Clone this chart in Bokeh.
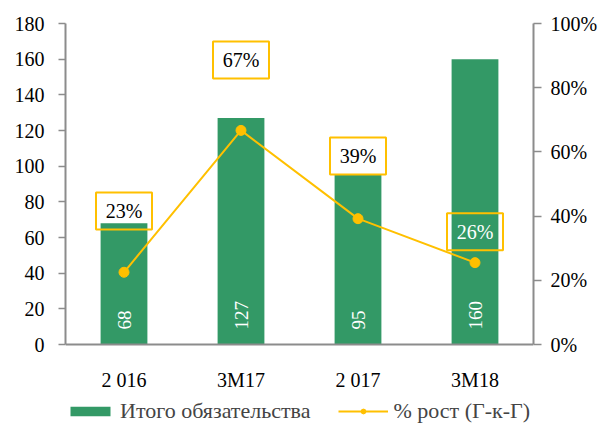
import math
from bokeh.plotting import figure
from bokeh.models import (Range1d, LinearAxis, NumeralTickFormatter, FactorRange,
                          Legend, LegendItem, FixedTicker)
from bokeh.core.properties import value
from bokeh.embed import file_html
from bokeh.resources import INLINE

# ---- data ----
categories = ["2 016", "3M17", "2 017", "3M18"]
liabilities = [68, 127, 95, 160]
growth = [0.225, 0.667, 0.392, 0.255]
growth_labels = ["23%", "67%", "39%", "26%"]
left_ticks = [0, 20, 40, 60, 80, 100, 120, 140, 160, 180]
right_ticks = [0, 0.2, 0.4, 0.6, 0.8, 1.0]

# ---- layout / style ----
label_pos = [0.416, 0.886, 0.587, 0.351]          # growth-label box centres (right-axis units)
label_colors = ["black", "black", "black", "white"]
FONT = "Liberation Serif"
GREEN = "#339966"
GOLD = "#FFC000"
AXIS = "#8C8C8C"

# plot area: value axes run from y=344 (zero) up to y=23 (max) in a 427 px canvas;
# the frame continues below zero to hold the category labels and the legend.
H, TOP, ZERO_Y = 427, 23, 344
span = ZERO_Y - TOP
below = (H - ZERO_Y) / span

p = figure(x_range=FactorRange(*categories),
           y_range=Range1d(-180 * below, 180),
           width=606, height=H, output_backend="svg", toolbar_location=None,
           min_border_left=65, min_border_right=73, min_border_top=TOP,
           min_border_bottom=0)
p.extra_y_ranges = {"pct": Range1d(-1 * below, 1)}
p.outline_line_color = None
p.xgrid.visible = False
p.ygrid.visible = False
p.background_fill_color = "white"

bars = p.vbar(x=categories, top=liabilities, width=0.4, fill_color=GREEN,
              line_color=None)

p.text(x=categories, y=[0] * len(categories), text=[str(v) for v in liabilities],
       angle=math.pi / 2, text_align="left", text_baseline="middle",
       y_offset=-15, text_color="white", text_font=value(FONT),
       text_font_size="19px")

line = p.line(x=categories, y=growth, y_range_name="pct", line_color=GOLD,
              line_width=2)
dots = p.scatter(x=categories, y=growth, y_range_name="pct", size=10,
                 fill_color=GOLD, line_color=GOLD)

p.rect(x=categories, y=label_pos, width=56, height=37, width_units="screen",
       height_units="screen", y_range_name="pct", fill_alpha=0,
       line_color=GOLD, line_width=2)
p.text(x=categories, y=label_pos, text=growth_labels, y_range_name="pct",
       text_align="center", text_baseline="middle", text_color=label_colors,
       text_font=value(FONT), text_font_size="20px")

# axes
left = p.yaxis[0]
left.ticker = FixedTicker(ticks=left_ticks)
left.bounds = (0, 180)
left.axis_line_color = AXIS
left.axis_line_width = 2
left.major_tick_line_color = AXIS
left.major_tick_line_width = 1.5
left.major_tick_in = 0
left.major_tick_out = 7
left.minor_tick_line_color = None
left.major_label_standoff = 14
left.major_label_text_font = FONT
left.major_label_text_font_size = "20px"
left.major_label_text_color = "black"

right = LinearAxis(y_range_name="pct", ticker=FixedTicker(ticks=right_ticks),
                   formatter=NumeralTickFormatter(format="0%"), bounds=(0, 1))
right.axis_line_color = AXIS
right.axis_line_width = 2
right.major_tick_line_color = AXIS
right.major_tick_line_width = 1.5
right.major_tick_in = 0
right.major_tick_out = 8
right.minor_tick_line_color = None
right.major_label_standoff = 9
right.major_label_text_font = FONT
right.major_label_text_font_size = "20px"
right.major_label_text_color = "black"
p.add_layout(right, "right")

bx = p.xaxis[0]
bx.fixed_location = 0
bx.axis_line_color = AXIS
bx.axis_line_width = 2
bx.major_tick_line_color = None
bx.minor_tick_line_color = None
bx.major_tick_out = 0
bx.major_tick_in = 0
bx.major_label_standoff = 24
bx.major_label_text_font = FONT
bx.major_label_text_font_size = "20px"
bx.major_label_text_color = "black"

legend = Legend(items=[LegendItem(label="Итого обязательства", renderers=[bars]),
                       LegendItem(label="% рост (Г-к-Г)", renderers=[line, dots])],
                orientation="horizontal", location=(0, 3),
                label_text_font=FONT, label_text_font_size="22px",
                glyph_width=50, glyph_height=12, spacing=28, label_standoff=5,
                border_line_color=None, background_fill_alpha=0,
                padding=0, margin=0)
p.add_layout(legend, "center")

open("out.html", "w").write(file_html(p, INLINE))
